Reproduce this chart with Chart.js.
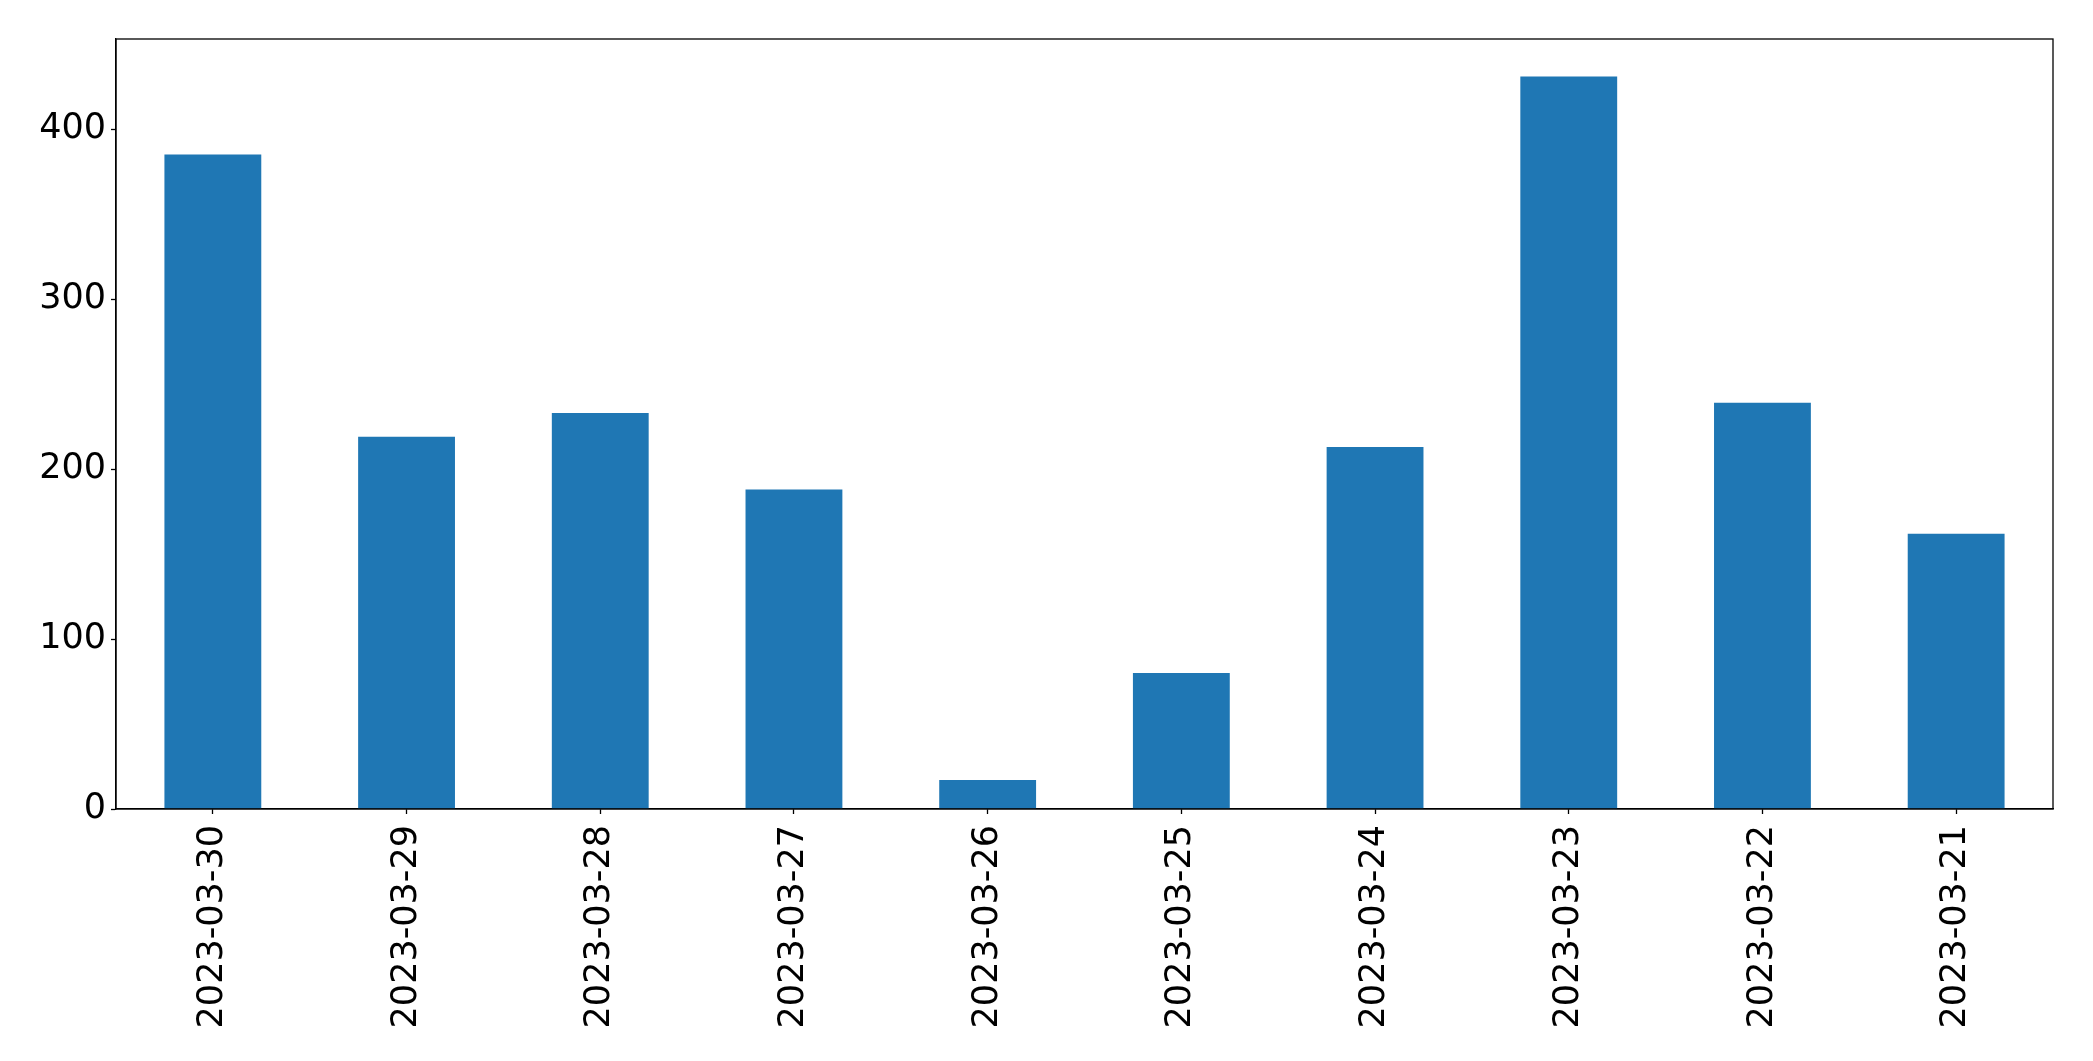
<!DOCTYPE html>
<html>
<head>
<meta charset="utf-8">
<script src="https://cdn.jsdelivr.net/npm/chart.js@4"></script>
<style>
  html, body { margin: 0; padding: 0; background: #fff; }
  #wrap { width: 2093px; height: 1061px; }
</style>
</head>
<body>
<div id="wrap"><canvas id="chart" width="2093" height="1061"></canvas></div>
<script>
const dates = ['2023-03-30', '2023-03-29', '2023-03-28', '2023-03-27', '2023-03-26',
               '2023-03-25', '2023-03-24', '2023-03-23', '2023-03-22', '2023-03-21'];
const counts = [385, 219, 233, 188, 17, 80, 213, 431, 239, 162];
const yTicks = [0, 100, 200, 300, 400];
const yMax = 453;

// box around the plot area, like matplotlib's spines
const frame = {
  id: 'frame',
  afterDraw(chart) {
    const { ctx, chartArea: a } = chart;
    ctx.save();
    ctx.strokeStyle = '#000';
    ctx.lineWidth = 1.3;
    ctx.strokeRect(a.left, a.top, a.right - a.left, a.bottom - a.top);
    ctx.restore();
  }
};

new Chart(document.getElementById('chart'), {
  type: 'bar',
  data: {
    labels: dates,
    datasets: [{
      data: counts,
      backgroundColor: '#1f77b4',
      barPercentage: 0.5,
      categoryPercentage: 1.0
    }]
  },
  options: {
    responsive: false,
    animation: false,
    devicePixelRatio: 1,
    layout: { padding: { top: 39, right: 40, left: 0, bottom: 0 } },
    plugins: { legend: { display: false }, tooltip: { enabled: false } },
    scales: {
      x: {
        grid: { offset: false, drawOnChartArea: false, color: '#000', tickLength: 5, tickWidth: 1.3 },
        border: { color: '#000', width: 1.3 },
        ticks: {
          color: '#000',
          font: { family: 'DejaVu Sans', size: 35 },
          minRotation: 90, maxRotation: 90,
          padding: 11
        },
        afterFit(scale) { scale.height = 252; }
      },
      y: {
        min: 0, max: yMax,
        afterBuildTicks(scale) { scale.ticks = yTicks.map(v => ({ value: v })); },
        grid: { drawOnChartArea: false, color: '#000', tickLength: 5, tickWidth: 1.3 },
        border: { color: '#000', width: 1.3 },
        ticks: {
          color: '#000',
          font: { family: 'DejaVu Sans', size: 35 },
          padding: 5
        },
        afterFit(scale) { scale.width = 116; }
      }
    }
  },
  plugins: [frame]
});
</script>
</body>
</html>
